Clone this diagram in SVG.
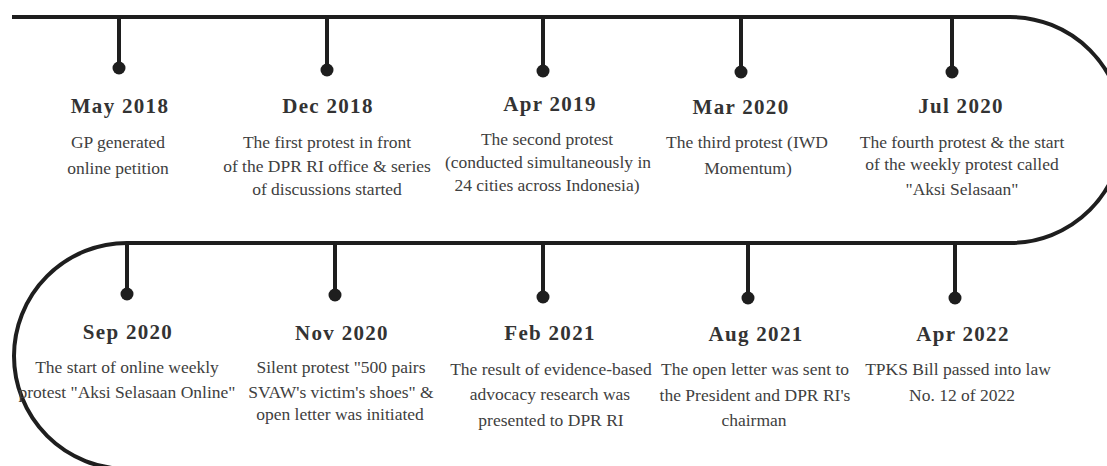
<svg xmlns="http://www.w3.org/2000/svg" width="1107" height="466" viewBox="0 0 1107 466">
<style>
.line{fill:none;stroke:#1e1e1e;stroke-width:4}
.tick{stroke:#1e1e1e;stroke-width:4}
.dot{fill:#1e1e1e}
.t{font-family:"Liberation Serif",serif;font-weight:bold;font-size:21px;letter-spacing:1.3px;fill:#333;text-anchor:middle}
.d{font-family:"Liberation Serif",serif;font-size:17.5px;fill:#404040;text-anchor:middle}
</style>
<rect width="1107" height="466" fill="#fff"/>
<g id="connectors">
<path class="line" d="M 12 17 H 1010 A 113 113 0 0 1 1010 243 H 127 A 113 113 0 0 0 127 469"/>
<line class="tick" x1="119" y1="17" x2="119" y2="68"/>
<line class="tick" x1="327" y1="17" x2="327" y2="70"/>
<line class="tick" x1="543" y1="17" x2="543" y2="71"/>
<line class="tick" x1="741" y1="17" x2="741" y2="72"/>
<line class="tick" x1="952" y1="17" x2="952" y2="72"/>
<line class="tick" x1="127" y1="243" x2="127" y2="294"/>
<line class="tick" x1="335" y1="243" x2="335" y2="295"/>
<line class="tick" x1="543" y1="243" x2="543" y2="297"/>
<line class="tick" x1="748" y1="243" x2="748" y2="298"/>
<line class="tick" x1="955" y1="243" x2="955" y2="298"/>
</g>
<g id="n1"><circle class="dot" cx="119" cy="68" r="6.5"/><text class="t" x="120" y="113">May 2018</text><text class="d" x="118" y="148">GP generated</text><text class="d" x="118" y="174">online petition</text></g>
<g id="n2"><circle class="dot" cx="327" cy="70" r="6.5"/><text class="t" x="328" y="113">Dec 2018</text><text class="d" x="327" y="148">The first protest in front</text><text class="d" x="327" y="172">of the DPR RI office &amp; series</text><text class="d" x="327" y="195">of discussions started</text></g>
<g id="n3"><circle class="dot" cx="543" cy="71" r="6.5"/><text class="t" x="550" y="111">Apr 2019</text><text class="d" x="547" y="145">The second protest</text><text class="d" x="548" y="168">(conducted simultaneously in</text><text class="d" x="547" y="191">24 cities across Indonesia)</text></g>
<g id="n4"><circle class="dot" cx="741" cy="72" r="6.5"/><text class="t" x="741" y="114">Mar 2020</text><text class="d" x="747" y="148">The third protest (IWD</text><text class="d" x="748" y="174">Momentum)</text></g>
<g id="n5"><circle class="dot" cx="952" cy="72" r="6.5"/><text class="t" x="961" y="113">Jul 2020</text><text class="d" x="962" y="148">The fourth protest &amp; the start</text><text class="d" x="962" y="170">of the weekly protest called</text><text class="d" x="962" y="195">"Aksi Selasaan"</text></g>
<g id="n6"><circle class="dot" cx="127" cy="294" r="6.5"/><text class="t" x="128" y="339">Sep 2020</text><text class="d" x="127" y="373">The start of online weekly</text><text class="d" x="127" y="398">protest "Aksi Selasaan Online"</text></g>
<g id="n7"><circle class="dot" cx="335" cy="295" r="6.5"/><text class="t" x="342" y="340">Nov 2020</text><text class="d" x="341" y="373">Silent protest "500 pairs</text><text class="d" x="341" y="398">SVAW's victim's shoes" &amp;</text><text class="d" x="340" y="420">open letter was initiated</text></g>
<g id="n8"><circle class="dot" cx="543" cy="297" r="6.5"/><text class="t" x="550" y="340">Feb 2021</text><text class="d" x="551" y="375">The result of evidence-based</text><text class="d" x="550" y="400">advocacy research was</text><text class="d" x="551" y="426">presented to DPR RI</text></g>
<g id="n9"><circle class="dot" cx="748" cy="298" r="6.5"/><text class="t" x="756" y="341">Aug 2021</text><text class="d" x="755" y="375">The open letter was sent to</text><text class="d" x="755" y="401">the President and DPR RI's</text><text class="d" x="754" y="426">chairman</text></g>
<g id="n10"><circle class="dot" cx="955" cy="298" r="6.5"/><text class="t" x="963" y="341">Apr 2022</text><text class="d" x="958" y="375">TPKS Bill passed into law</text><text class="d" x="962" y="401">No. 12 of 2022</text></g>
</svg>
